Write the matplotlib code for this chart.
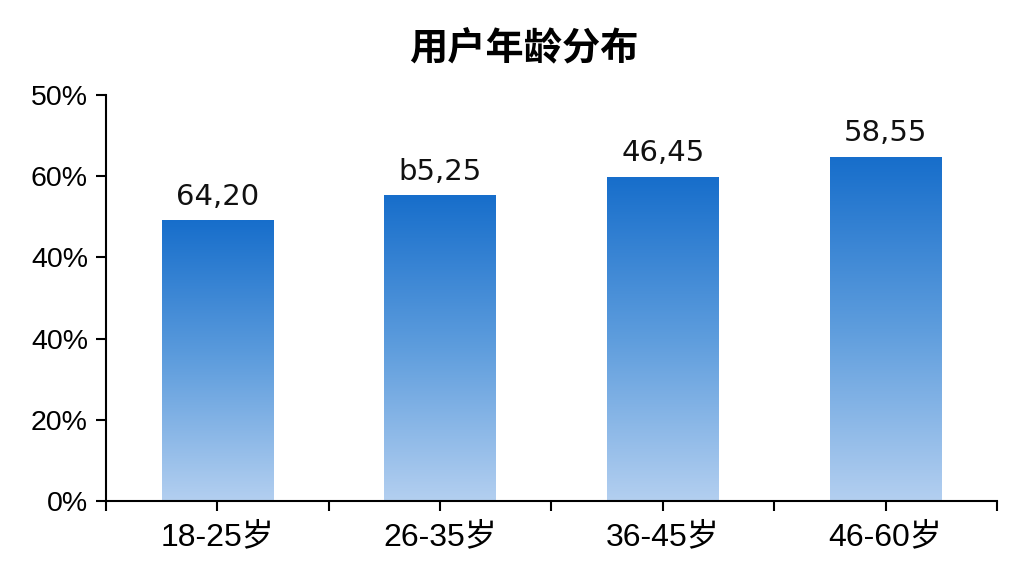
import numpy as np
import matplotlib.pyplot as plt
from matplotlib import font_manager
from matplotlib.colors import LinearSegmentedColormap

# data
categories = ['18-25岁', '26-35岁', '36-45岁', '46-60岁']
values = [69, 75.2, 79.8, 84.7]
bar_labels = ['64,20', 'b5,25', '46,45', '58,55']
ytick_pos = [0, 20, 40, 60, 80, 100]
ytick_labels = ['0%', '20%', '40%', '40%', '60%', '50%']

names = {f.name for f in font_manager.fontManager.ttflist}
narrow = 'Liberation Sans Narrow' if 'Liberation Sans Narrow' in names else 'Liberation Sans'

fig = plt.figure(figsize=(10.24, 5.76), dpi=100)
ax = fig.add_axes([0.1035, 0.1302, 0.8701, 0.7048])

cmap = LinearSegmentedColormap.from_list('blue', ['#b3cff0', '#5e9ddd', '#176ecb'])
grad = np.linspace(0, 1, 256).reshape(-1, 1)

x = np.arange(len(categories))
bars = ax.bar(x, values, width=0.5, color='none', edgecolor='none')
for b, lab in zip(bars, bar_labels):
    x0, y0 = b.get_x(), b.get_y()
    w, h = b.get_width(), b.get_height()
    ax.imshow(grad, cmap=cmap, origin='lower', aspect='auto',
              extent=[x0, x0 + w, y0, y0 + h], zorder=2)
    ax.text(x0 + w / 2, h + 2.5, lab, ha='center', va='bottom',
            fontsize=21, family='DejaVu Sans', color='#111111')

ax.set_xlim(-0.5, 3.5)
ax.set_ylim(0, 100)

ax.set_xticks(x)
ax.set_xticklabels(categories, fontsize=23, family=[narrow, 'Noto Sans CJK SC'])
ax.set_xticks([-0.5, 0.5, 1.5, 2.5, 3.5], minor=True)
ax.tick_params(axis='x', which='both', length=7, width=1.5, pad=8)

ax.set_yticks(ytick_pos)
ax.set_yticklabels(ytick_labels, fontsize=20.5, family='Liberation Sans')
ax.tick_params(axis='y', length=7, width=1.5, pad=6)

for s in ['top', 'right']:
    ax.spines[s].set_visible(False)
for s in ['left', 'bottom']:
    ax.spines[s].set_linewidth(1.5)

fig.text(0.512, 0.915, '用户年龄分布', ha='center', va='center',
         fontsize=27.5, family='Noto Sans CJK SC', fontweight='bold')

fig.savefig('out.png', dpi=100, facecolor='white')
